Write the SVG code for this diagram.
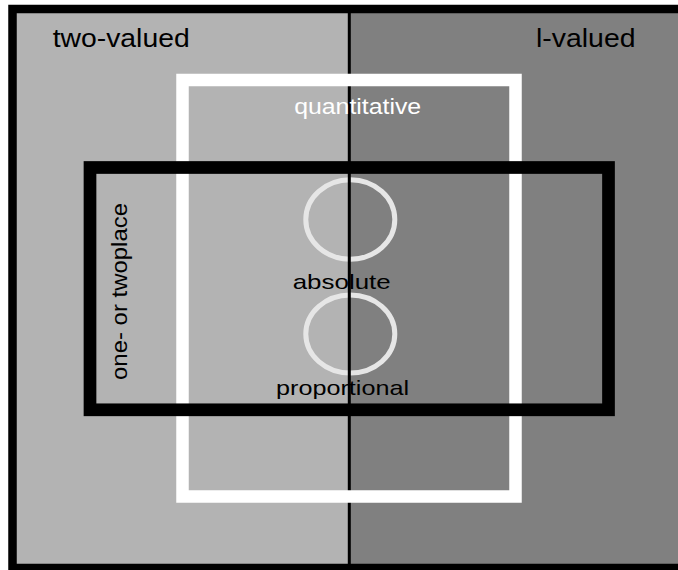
<svg xmlns="http://www.w3.org/2000/svg" width="678" height="570" viewBox="0 0 678 570">
  <style>
    .lbl { font-family: "Liberation Sans", Arial, Helvetica, sans-serif; fill: #000; }
    .ring { fill: none; stroke: #e6e6e6; stroke-width: 5; }
  </style>
  <!-- background halves -->
  <g id="regions">
    <rect x="12" y="9" width="337.5" height="558" fill="#b3b3b3"/>
    <rect x="349.5" y="9" width="340" height="558" fill="#808080"/>
  </g>
  <!-- circles -->
  <g id="absolute-ring">
    <ellipse class="ring" cx="350.3" cy="219.5" rx="44.5" ry="39.7"/>
  </g>
  <g id="proportional-ring">
    <ellipse class="ring" cx="350.3" cy="334" rx="44.5" ry="39"/>
  </g>
  <!-- divider between two-valued and l-valued -->
  <g id="connectors">
    <line x1="349.3" y1="9" x2="349.3" y2="567" stroke="#000" stroke-width="3"/>
  </g>
  <!-- outer frame -->
  <g id="frame">
    <rect x="12.5" y="9" width="680" height="559" fill="none" stroke="#000" stroke-width="8.5"/>
  </g>
  <!-- quantitative box -->
  <g id="quantitative">
    <rect x="182.5" y="80" width="333" height="416.5" fill="none" stroke="#fff" stroke-width="12.5"/>
    <text class="lbl" x="357.7" y="114" font-size="22" text-anchor="middle" textLength="127" lengthAdjust="spacingAndGlyphs" style="fill:#fff">quantitative</text>
  </g>
  <!-- one- or twoplace box -->
  <g id="one-or-twoplace">
    <rect x="90" y="167.5" width="518.5" height="242.3" fill="none" stroke="#000" stroke-width="12.7"/>
    <text class="lbl" transform="translate(127,291.5) rotate(-90)" font-size="22" text-anchor="middle" textLength="177" lengthAdjust="spacingAndGlyphs">one- or twoplace</text>
  </g>
  <!-- labels -->
  <g id="two-valued">
    <text class="lbl" x="52.7" y="46.7" font-size="25" textLength="137" lengthAdjust="spacingAndGlyphs">two-valued</text>
  </g>
  <g id="l-valued">
    <text class="lbl" x="536" y="46.7" font-size="25" textLength="99.5" lengthAdjust="spacingAndGlyphs">l-valued</text>
  </g>
  <g id="absolute">
    <text class="lbl" x="292.7" y="289" font-size="21" textLength="98" lengthAdjust="spacingAndGlyphs">absolute</text>
  </g>
  <g id="proportional">
    <text class="lbl" x="276" y="395" font-size="21" textLength="133" lengthAdjust="spacingAndGlyphs">proportional</text>
  </g>
</svg>
